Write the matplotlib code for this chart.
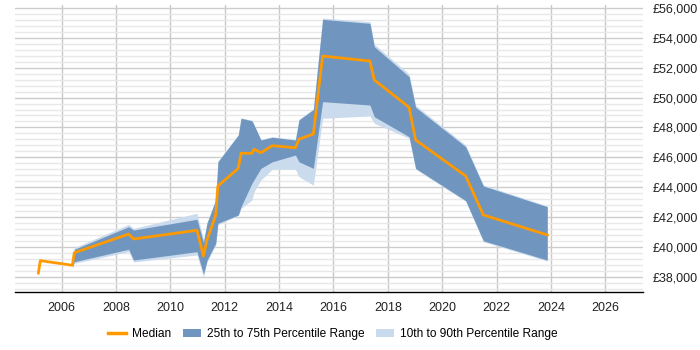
import numpy as np
import matplotlib
matplotlib.use("Agg")
import matplotlib.pyplot as plt
from matplotlib.lines import Line2D
from matplotlib.patches import Patch
from matplotlib.ticker import MultipleLocator, FuncFormatter

plt.rcParams['font.family'] = ['Liberation Sans', 'DejaVu Sans']

nan = np.nan
years = [2005.15, 2005.22, 2006.40, 2006.47, 2008.47, 2008.65, 2010.98, 2011.22,
         2011.35, 2011.67, 2011.75, 2012.50, 2012.60, 2013.00, 2013.08, 2013.33,
         2013.75, 2014.60, 2014.73, 2015.26, 2015.60, 2017.34, 2017.50, 2018.78,
         2019.02, 2020.86, 2021.51, 2023.86]
median = [38250, 39080, 38770, 39610, 40860, 40530, 41110, 39390,
          40460, 42140, 44080, 45260, 46270, 46270, 46540, 46310,
          46780, 46640, 47210, 47560, 52780, 52450, 51180, 49350,
          47160, 44750, 42140, 40800]
p75 = [nan, nan, 38800, 39840, 41350, 41130, 41850, 40300,
       41600, 43140, 45700, 47490, 48610, 48450, 48160, 47160,
       47340, 47160, 48500, 49200, 55240, 54970, 53410, 51400,
       49350, 46710, 44080, 42690]
p25 = [nan, nan, 38670, 39010, 39840, 39120, 39680, 38180,
       39100, 40240, 41580, 42140, 42690, 44260, 44500, 45260,
       45700, 46150, 45700, 45260, 49730, 49500, 48720, 47380,
       45260, 43100, 40410, 39120]
p90 = [nan, nan, 38850, 39950, 41510, 41240, 42250, 40500,
       41650, 43200, 45750, 47520, 48650, 48480, 48200, 47200,
       47380, 47200, 48550, 49250, 55330, 55080, 53570, 51580,
       49480, 46820, 44150, 42750]
p10 = [nan, nan, 38600, 38900, 39680, 38990, 39460, 37980,
       39000, 40150, 41500, 42100, 42580, 43140, 43700, 44480,
       45200, 45200, 44700, 44140, 48610, 48770, 48280, 47270,
       45200, 43050, 40350, 39050]

x = np.array(years)
med = np.array(median, dtype=float)
a75 = np.array(p75, dtype=float)
a25 = np.array(p25, dtype=float)
a90 = np.array(p90, dtype=float)
a10 = np.array(p10, dtype=float)
m = ~np.isnan(a75)

c_med = '#FF9900'
c_dark = '#7096bf'
c_light = '#cadbed'

fig = plt.figure(figsize=(7, 3.5), dpi=100)
ax = fig.add_axes([15/700, 58/350, (643-15)/700, (292-5)/350])

ax.fill_between(x[m], a10[m], a90[m], color=c_light, linewidth=0, zorder=2)
ax.fill_between(x[m], a25[m], a75[m], color=c_dark, linewidth=0, zorder=3)
ax.plot(x, med, color=c_med, linewidth=2, zorder=4)

ax.set_xlim(2004.29, 2027.38)
ax.set_ylim(36980, 56200)
ax.xaxis.set_major_locator(MultipleLocator(2))
ax.yaxis.set_major_locator(MultipleLocator(2000))
ax.yaxis.set_minor_locator(MultipleLocator(400))
ax.yaxis.set_major_formatter(FuncFormatter(lambda v, p: '£{:,.0f}'.format(v)))
ax.yaxis.tick_right()

ax.grid(axis='y', which='major', color='#cccccc', linewidth=1, zorder=0)
ax.grid(axis='y', which='minor', color='#e8e8e8', linewidth=1, zorder=0)
ax.grid(axis='x', which='major', color='#c8c8c8', linewidth=1, zorder=0)
ax.set_axisbelow(True)

for s in ['top', 'right', 'left']:
    ax.spines[s].set_visible(False)
ax.spines['bottom'].set_color('#000000')
ax.spines['bottom'].set_linewidth(1)

ax.tick_params(axis='x', which='both', length=0, pad=7, labelsize=9, labelcolor='#222222')
ax.tick_params(axis='y', which='both', length=0, pad=7, labelsize=9, labelcolor='#222222')

handles = [Line2D([0], [0], color=c_med, linewidth=2.5),
           Patch(facecolor=c_dark, edgecolor='none'),
           Patch(facecolor=c_light, edgecolor='none')]
labels = ['Median', '25th to 75th Percentile Range', '10th to 90th Percentile Range']
fig.legend(handles, labels, loc='center', bbox_to_anchor=(333/700, 1 - 334/350),
           ncol=3, frameon=False, fontsize=8.6, handlelength=1.5, columnspacing=1.0,
           handletextpad=0.5)

fig.savefig('out.png', dpi=100)
